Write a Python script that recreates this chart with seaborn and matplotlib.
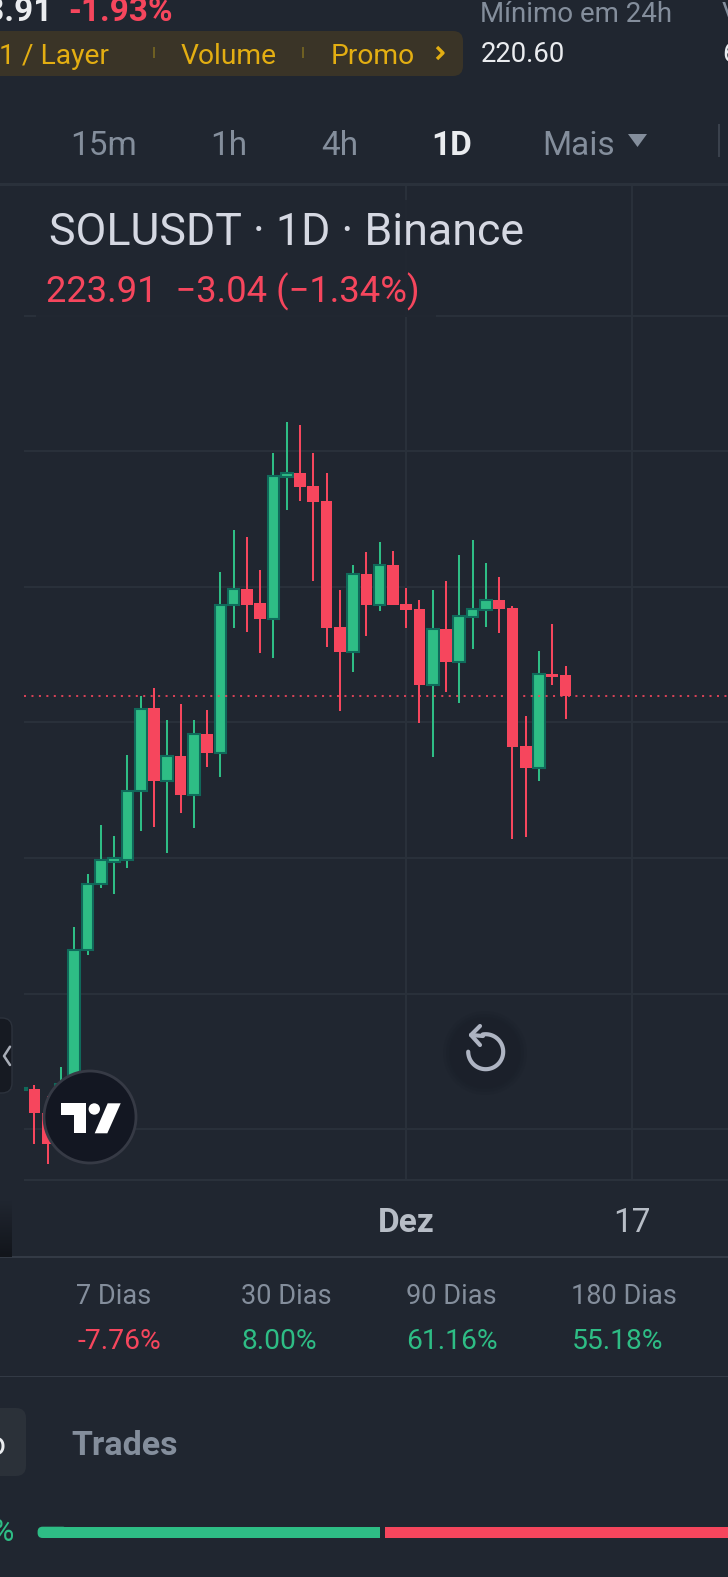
import numpy as np
import pandas as pd
import matplotlib
matplotlib.use("Agg")
import matplotlib.pyplot as plt
from matplotlib.patches import Rectangle, FancyBboxPatch, Circle, Polygon
import seaborn as sns

# candles, one per day, from the screenshot
days = list(range(-1, 41))
opens = [165.83, 165.97, 162.43, 157.86, 166.71, 186.43, 196.11, 199.45, 199.71, 209.82, 222.06, 211.40, 215.09, 209.34,
         218.33, 215.53, 237.26, 239.72, 237.65, 235.29, 256.24, 256.83, 254.91, 252.70, 234.12, 230.43, 241.93, 237.36,
         243.26, 237.51, 236.77, 225.56, 233.82, 228.95, 235.59, 236.62, 238.10, 236.92, 216.56, 213.32, 227.18, 226.95]
closes = [166.12, 162.33, 157.86, 166.71, 186.43, 196.17, 199.71, 199.94, 209.93, 221.98, 211.40, 215.09, 209.34, 218.33,
          215.53, 237.36, 239.72, 237.36, 235.29, 256.34, 256.83, 254.76, 252.55, 233.97, 230.43, 241.93, 237.36, 243.26,
          237.36, 236.62, 225.56, 233.82, 228.95, 235.74, 236.77, 238.10, 236.77, 216.42, 213.32, 227.18, 226.74, 223.91]
highs = [166.30, 166.56, 164.94, 169.22, 189.87, 197.68, 204.91, 203.29, 215.24, 223.94, 225.12, 220.40, 222.76, 220.40,
         221.87, 242.23, 248.42, 247.39, 242.52, 259.78, 264.35, 263.91, 259.78, 256.73, 239.57, 243.26, 245.18, 246.65,
         245.32, 239.87, 238.10, 239.57, 240.90, 244.73, 246.95, 243.55, 241.49, 237.21, 220.99, 230.58, 234.56, 228.36]
lows = [165.70, 157.82, 154.91, 156.83, 165.68, 185.74, 195.62, 194.73, 198.57, 204.03, 204.62, 200.68, 206.68, 204.37,
        213.36, 211.99, 233.97, 233.38, 230.28, 229.54, 251.37, 252.70, 240.90, 231.17, 221.73, 227.48, 232.79, 236.47,
        237.36, 233.97, 219.96, 214.94, 224.53, 222.91, 230.87, 234.12, 233.23, 202.85, 203.14, 211.40, 225.56, 220.55]
price_levels = [160, 180, 200, 220, 240, 260, 280]
date_ticks = [28, 45]
date_labels = ["Dez", "17"]
last_price = 223.91

periods = ["7 Dias", "30 Dias", "90 Dias", "180 Dias"]
period_changes = ["-7.76%", "8.00%", "61.16%", "55.18%"]
timeframes = ["15m", "1h", "4h", "1D", "Mais"]

BG = "#202630"
GRID = "#2a313b"
GREEN = "#2ebd85"
GREEN_EDGE = "#10695a"
RED = "#f6465d"
GREY = "#848e9c"
YELLOW = "#e3ae12"
FONT = ["Liberation Sans Narrow", "Roboto", "DejaVu Sans"]

sns.set_theme(style="dark", rc={"figure.facecolor": BG, "axes.facecolor": BG, "savefig.facecolor": BG})
plt.rcParams["font.family"] = FONT

fig = plt.figure(figsize=(7.28, 15.77), dpi=100)
W, H = 728, 1577
ax = fig.add_axes([24 / W, (H - 1180) / H, (W - 24) / W, (1180 - 184) / H])

df = pd.DataFrame({"day": days, "open": opens, "close": closes, "high": highs, "low": lows})
df["up"] = df["close"] >= df["open"]
df["body"] = (df["close"] - df["open"]).abs()
df["base"] = df[["open", "close"]].min(axis=1)

ax.vlines(df["day"], df["low"], df["high"], colors=np.where(df["up"], GREEN, RED), lw=1.45, zorder=2)
for up, color, edge, lw in [(True, GREEN, GREEN_EDGE, 1.5), (False, RED, RED, 0)]:
    sub = df[df["up"] == up]
    sns.barplot(data=sub, x="day", y="body", bottom=sub["base"].to_numpy(), native_scale=True, width=0.88,
                color=color, saturation=1, edgecolor=edge, linewidth=lw, zorder=3, ax=ax, errorbar=None)

ax.axhline(last_price, color=RED, lw=1.45, ls=(0, (1, 2.7)), alpha=0.85, zorder=4)

ax.set_xlim(-0.79, 52.24)
ax.set_ylim(152.5, 299.4)
ax.set_yticks(price_levels)
ax.set_xticks(date_ticks)
ax.set_xticklabels(date_labels)
ax.grid(True, color=GRID, lw=1.4, zorder=0)
ax.set_axisbelow(True)
ax.set_xlabel("")
ax.set_ylabel("")
ax.tick_params(axis="y", left=False, labelleft=False)
ax.tick_params(axis="x", bottom=False, pad=13.5, labelsize=24)
labels = ax.get_xticklabels()
labels[0].set_color("#b7bdc6")
labels[0].set_fontweight("bold")
labels[1].set_color("#b7bdc6")
sns.despine(ax=ax, left=True, bottom=True)

# everything around the chart, in screen pixels
ui = fig.add_axes([0, 0, 1, 1], zorder=5)
ui.set_xlim(0, W)
ui.set_ylim(H, 0)
ui.axis("off")
ui.patch.set_alpha(0)


def txt(x, y, s, size, color, ha="left", weight="normal"):
    ui.text(x, y, s, fontsize=size, color=color, ha=ha, va="baseline", fontweight=weight)


# ticker strip
txt(53, 21, "223.91", 24, "#eaecef", ha="right", weight="bold")
txt(68, 21, "-1.93%", 24, RED, weight="bold")
ui.add_patch(FancyBboxPatch((-30, 31), 493, 45, boxstyle="round,pad=0,rounding_size=10", fc="#3a3427", ec="none"))
txt(-1, 64, "1 / Layer", 20.3, YELLOW)
txt(181, 64, "Volume", 20.3, YELLOW)
txt(331, 64, "Promo", 20.3, YELLOW)
ui.plot([437, 443, 437], [47, 53, 59], color=YELLOW, lw=2.4, solid_capstyle="butt")
for sx in (154, 303):
    ui.add_patch(Rectangle((sx - 1, 47), 2, 11, fc="#6e5f22", ec="none"))
txt(480, 22, "Mínimo em 24h", 20, GREY)
txt(481, 62, "220.60", 19.8, "#eaecef")
txt(722, 22, "V", 20, GREY)
txt(722, 62, "6", 19.8, "#eaecef")

# timeframe tabs
for s, x in zip(timeframes, [70, 210, 321, 431, 542]):
    active = s == "1D"
    txt(x, 155, s, 24, "#eaecef" if active else GREY, weight="bold" if active else "normal")
ui.add_patch(Polygon([(628, 134), (647, 134), (637.5, 147)], fc=GREY, ec="none"))
ui.add_patch(Rectangle((718, 124), 2, 33, fc="#3a414c", ec="none"))
ui.add_patch(Rectangle((0, 182.5), W, 3, fc=GRID, ec="none"))

# legend over the chart
ui.add_patch(Rectangle((36, 200), 400, 117, fc=BG, ec="none", alpha=0.85))
txt(49, 245, "SOLUSDT · 1D · Binance", 32.2, "#d5d8e2")
txt(46, 302.5, "223.91  −3.04 (−1.34%)", 26.2, RED)

# axis bottom and rules
ui.add_patch(Rectangle((24, 1179), W, 2, fc=GRID, ec="none"))
ui.add_patch(Rectangle((0, 1256), W, 1.5, fc="#333a45", ec="none"))
ui.add_patch(Rectangle((0, 1375.5), W, 1.5, fc="#333a45", ec="none"))
ui.imshow(np.linspace(0, 1, 20).reshape(-1, 1), extent=(0, 12, 1257, 1200), aspect="auto",
          cmap=matplotlib.colors.LinearSegmentedColormap.from_list("edge", [BG, "#12151b"]), zorder=1)
ui.set_xlim(0, W)
ui.set_ylim(H, 0)

# side handle
ui.add_patch(FancyBboxPatch((-20, 1018), 32, 75, boxstyle="round,pad=0,rounding_size=10", fc="#161a22", ec="#2c323c", lw=1))
ui.plot([10, 4, 10], [1046.7, 1056, 1065], color="#a8adb7", lw=1.8)

# TradingView badge
ui.add_patch(Circle((90, 1117), 46, fc="#131722", ec="#363a45", lw=2))
ui.add_patch(Polygon([(61, 1103.3), (86, 1103.3), (86, 1133.3), (74, 1133.3), (74, 1115), (61, 1115)], fc="white", ec="none"))
ui.add_patch(Circle((94.3, 1109), 5.7, fc="white", ec="none"))
ui.add_patch(Polygon([(107.7, 1103.3), (120.7, 1103.3), (107.3, 1133.3), (94.7, 1133.3)], fc="white", ec="none"))

# reset button, soft shadow then the arrow
for r, a in [(42, 0.25), (39, 0.35), (36, 0.5)]:
    ui.add_patch(Circle((485, 1053), r, fc="#1b2029", ec="none", alpha=a))
t = np.radians(np.linspace(180, -100, 60))
ui.plot(485.7 + 17.5 * np.cos(t), 1051.7 + 17.5 * np.sin(t), color="#aeb4c2", lw=3, solid_capstyle="round")
ui.plot([480, 471, 480], [1026, 1035, 1045], color="#aeb4c2", lw=3, solid_capstyle="round", solid_joinstyle="round")
ui.plot([471, 483], [1035, 1036], color="#aeb4c2", lw=3)

# period performance
for s, c, x in zip(periods, period_changes, [76.5, 241, 406, 571]):
    txt(x, 1304, s, 19.5, GREY)
    txt(x + 0.5, 1349, c, 20.3, RED if c.startswith("-") else GREEN)

# tabs and buy/sell bar
ui.add_patch(FancyBboxPatch((-30, 1408), 56, 68, boxstyle="round,pad=0,rounding_size=10", fc="#2b3139", ec="none"))
txt(5, 1455, "o", 24, "#eaecef", ha="right")
txt(71, 1455, "Trades", 24.5, GREY, weight="bold")
txt(14, 1541, "%", 22, GREEN, ha="right")
ui.add_patch(FancyBboxPatch((37.6, 1526.7), 30, 11.3, boxstyle="round,pad=0,rounding_size=5", fc=GREEN, ec="none"))
ui.add_patch(Rectangle((45, 1526.7), 335, 11.3, fc=GREEN, ec="none"))
ui.add_patch(Rectangle((385, 1526.7), 343, 11.3, fc=RED, ec="none"))

fig.savefig("out.png", dpi=100)
